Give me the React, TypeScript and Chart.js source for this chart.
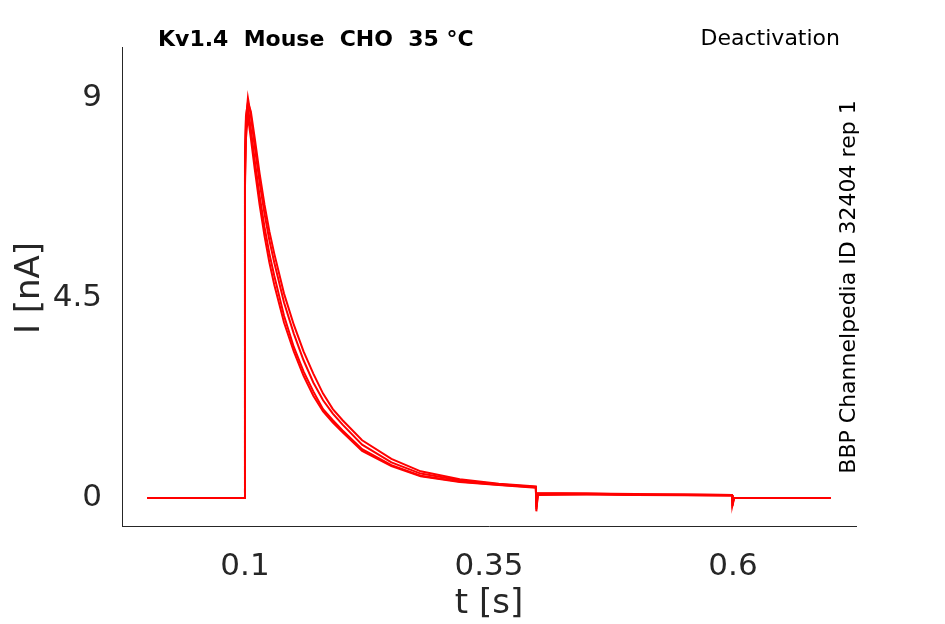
import React, { useEffect, useRef } from "react";
import { Chart, registerables } from "chart.js";
Chart.register(...registerables);

const times = [0, 0.099, 0.1, 0.101, 0.103, 0.106, 0.11, 0.115, 0.12, 0.125, 0.13, 0.14, 0.15, 0.16, 0.17, 0.18, 0.19, 0.2, 0.22, 0.25, 0.28, 0.32, 0.36, 0.398, 0.3985, 0.4, 0.45, 0.5, 0.55, 0.599, 0.5995, 0.601, 0.7];
const trace1 = [0, 0, 7.5, 8.5, 9.0, 8.6, 7.9, 7.1, 6.4, 5.8, 5.3, 4.4, 3.7, 3.1, 2.6, 2.2, 1.9, 1.65, 1.2, 0.8, 0.55, 0.4, 0.31, 0.25, -0.2, 0.1, 0.1, 0.08, 0.08, 0.07, -0.15, 0, 0];
const trace2 = [0, 0, 7.2, 8.3, 8.8, 8.3, 7.6, 6.8, 6.1, 5.5, 5.0, 4.1, 3.4, 2.85, 2.4, 2.0, 1.75, 1.52, 1.1, 0.74, 0.5, 0.37, 0.3, 0.24, -0.25, 0.08, 0.09, 0.07, 0.07, 0.06, -0.12, 0, 0];
const trace3 = [0, 0, 7.8, 8.6, 8.9, 8.7, 8.1, 7.3, 6.6, 6.0, 5.5, 4.6, 3.9, 3.3, 2.8, 2.35, 2.0, 1.75, 1.3, 0.88, 0.6, 0.42, 0.32, 0.26, -0.15, 0.11, 0.1, 0.09, 0.08, 0.07, -0.1, 0, 0];
const trace4 = [0, 0, 7.0, 8.1, 8.6, 8.1, 7.4, 6.6, 5.9, 5.3, 4.8, 3.95, 3.3, 2.75, 2.3, 1.95, 1.7, 1.48, 1.06, 0.72, 0.49, 0.36, 0.29, 0.23, -0.3, 0.07, 0.08, 0.07, 0.06, 0.05, -0.18, 0, 0];
const yTicks = [0, 4.5, 9];
const xTicks = [0.1, 0.35, 0.6];
const traces = [trace1, trace2, trace3, trace4];

export default function App() {
  const ref = useRef<HTMLCanvasElement>(null);
  useEffect(() => {
    const textPlugin = {
      id: "texts",
      afterDraw(c: any) {
        const ctx = c.ctx;
        ctx.save();
        ctx.fillStyle = "#000";
        ctx.font = "bold 22px 'DejaVu Sans'";
        ctx.textBaseline = "middle";
        ctx.textAlign = "left";
        ctx.fillText("Kv1.4  Mouse  CHO  35 °C", 158, 40);
        ctx.font = "22px 'DejaVu Sans'";
        ctx.textAlign = "right";
        ctx.fillText("Deactivation", 840, 39);
        ctx.fillStyle = "#262626";
        ctx.font = "34px 'DejaVu Sans'";
        ctx.textAlign = "center";
        ctx.fillText("t [s]", 489, 604);
        ctx.save();
        ctx.translate(30, 288);
        ctx.rotate(-Math.PI / 2);
        ctx.fillText("I [nA]", 0, 0);
        ctx.restore();
        ctx.fillStyle = "#000";
        ctx.font = "22px 'DejaVu Sans'";
        ctx.translate(849, 287);
        ctx.rotate(-Math.PI / 2);
        ctx.fillText("BBP Channelpedia ID 32404 rep 1", 0, 0);
        ctx.restore();
      },
    };
    const chart = new Chart(ref.current!, {
      type: "line",
      data: {
        datasets: traces.map((t) => ({
          data: times.map((x, i) => ({ x, y: t[i] })),
          borderColor: "#ff0000",
          borderWidth: 2,
          pointRadius: 0,
          tension: 0,
        })),
      },
      options: {
        animation: false,
        responsive: false,
        plugins: { legend: { display: false }, tooltip: { enabled: false } },
        layout: { padding: { left: 0, right: 89, top: 47, bottom: 0 } },
        scales: {
          x: {
            type: "linear",
            min: -0.026,
            max: 0.726,
            afterBuildTicks: (s: any) => { s.ticks = xTicks.map((v) => ({ value: v })); },
            afterFit: (s: any) => { s.height = 98; },
            grid: { display: false },
            border: { display: true, color: "#262626" },
            ticks: { color: "#262626", font: { size: 31, family: "DejaVu Sans" }, padding: 14, maxRotation: 0, callback: (v: any) => String(v) },
          },
          y: {
            min: -0.63,
            max: 10.15,
            afterBuildTicks: (s: any) => { s.ticks = yTicks.map((v) => ({ value: v })); },
            afterFit: (s: any) => { s.width = 122; },
            grid: { display: false },
            border: { display: true, color: "#262626" },
            ticks: { color: "#262626", font: { size: 31, family: "DejaVu Sans" }, padding: 12, callback: (v: any) => String(v) },
          },
        },
      },
      plugins: [textPlugin],
    });
    return () => chart.destroy();
  }, []);
  return (
    <div style={{ position: "absolute", left: 0, top: 0, width: 945, height: 624, background: "#fff" }}>
      <canvas ref={ref} width={945} height={624} />
    </div>
  );
}
